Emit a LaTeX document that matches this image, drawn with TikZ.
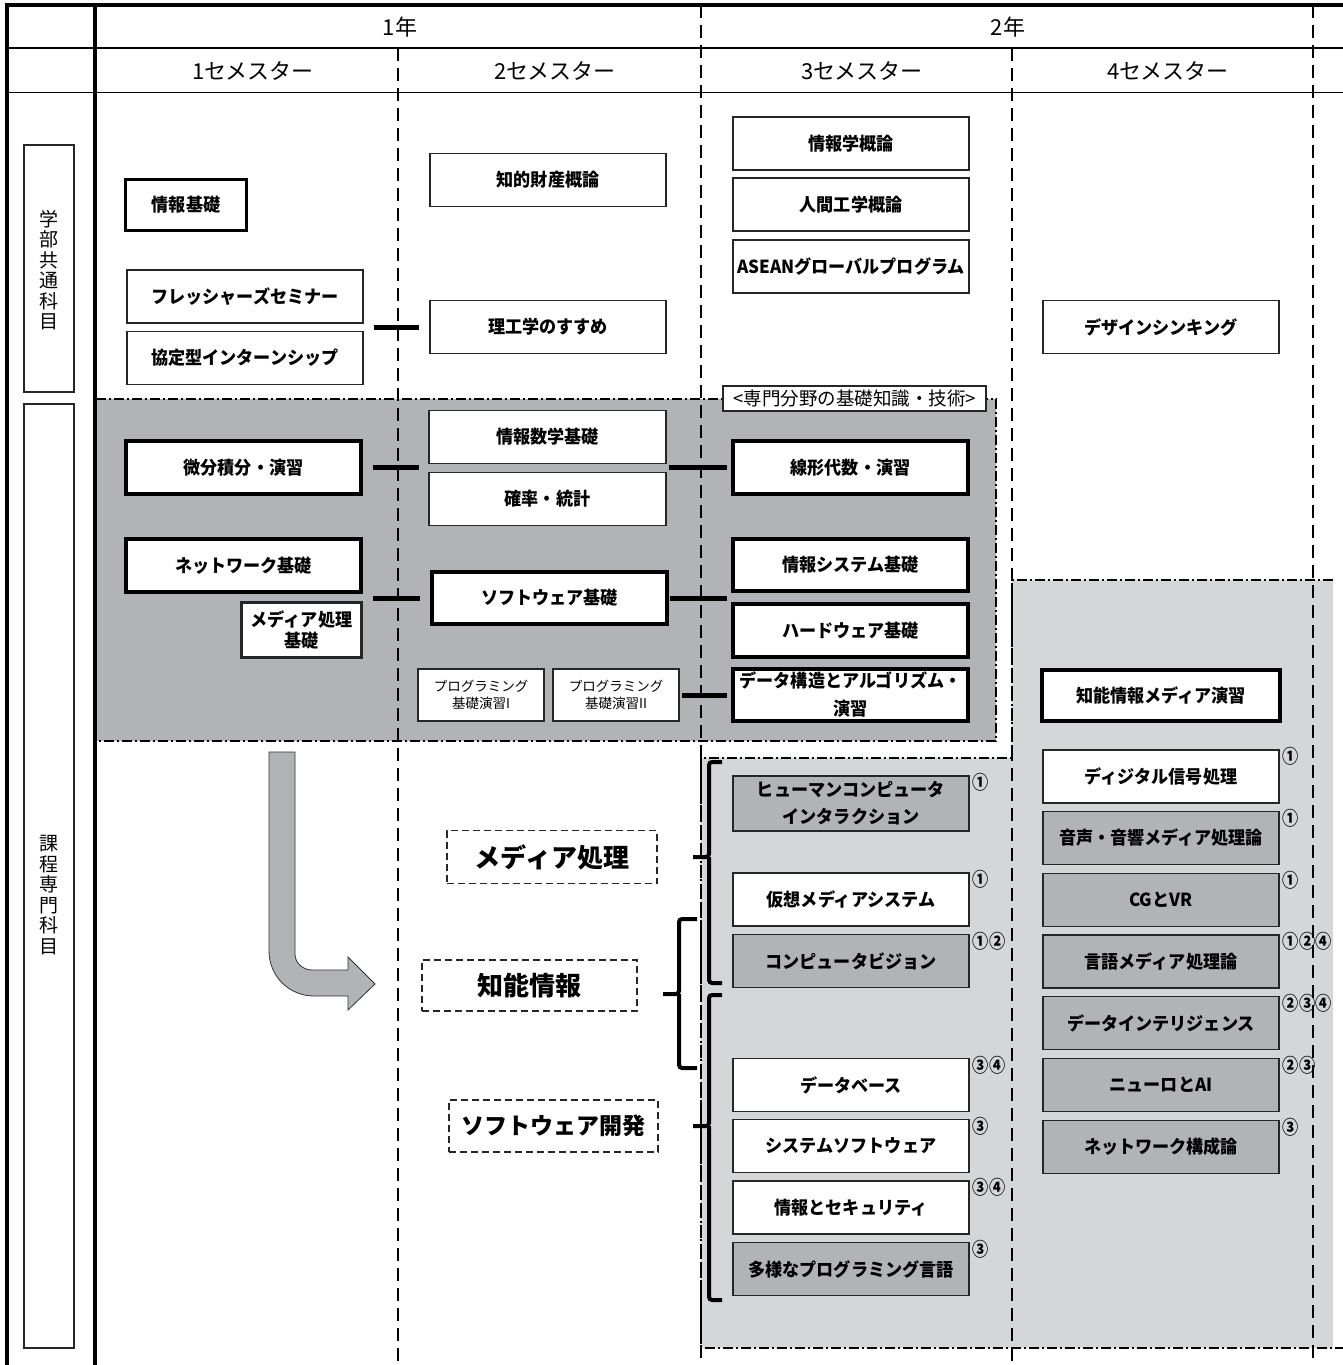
\documentclass[tikz,border=0pt]{standalone}
\usepackage{fontspec}
\newfontfamily\jp[FakeStretch=0.95]{Noto Sans CJK JP}
\newfontfamily\jpw{Noto Sans CJK JP}
\newfontfamily\jpn[FakeStretch=0.85]{Noto Sans CJK JP}
\usetikzlibrary{positioning}
\definecolor{darkfill}{HTML}{B1B3B6}
\definecolor{lightfill}{HTML}{D5D6D8}
\definecolor{boxgrey}{HTML}{B1B3B6}
\begin{document}
\begin{tikzpicture}[x=1pt, y=-1pt,
	course/.style={draw=black!85, line width=1.3pt, fill=white, minimum width=236pt, minimum height=53pt, inner sep=0pt, align=center, font=\jp\bfseries\fontsize{18}{27}\selectfont},
	core/.style={course, draw=black, line width=3.8pt, minimum width=235pt},
	greybox/.style={course, fill=boxgrey},
	practice/.style={course, line width=2.6pt, minimum width=126pt, minimum height=52pt, font=\jpw\fontsize{13.5}{17}\selectfont},
	field/.style={draw=black!85, line width=1.2pt, dash pattern=on 7pt off 4pt, inner sep=0pt, font=\jpw\bfseries\fontsize{26}{26}\selectfont},
	catbox/.style={draw=black!85, line width=1.6pt, minimum width=50pt, inner sep=0pt},
	cattext/.style={align=center, font=\jpw\fontsize{19}{20.5}\selectfont},
	numtag/.style={anchor=north west, inner sep=0pt, font=\jpn\bfseries\fontsize{19}{19}\selectfont},
	head/.style={font=\jpw\fontsize{22}{22}\selectfont},
	link/.style={line width=5pt},
	brace/.style={line width=4pt, rounded corners=3pt},
	semline/.style={line width=1.2pt, dash pattern=on 13pt off 7pt},
	zone/.style={line width=1.4pt, dash pattern=on 10pt off 3pt on 2pt off 3pt}]
	\useasboundingbox (0,0) rectangle (1343,1365);
	
	\fill[darkfill] (96,399) rectangle (996,741);
	\fill[lightfill] (701,758) -- (1012,758) -- (1012,580) -- (1333,580) -- (1333,1348) -- (701,1348) -- cycle;
	
	\draw[semline] (398,48) -- (398,1365);
	\draw[semline] (701,5) -- (701,1365);
	\draw[semline] (1012,48) -- (1012,1365);
	\draw[semline] (1313,5) -- (1313,1365);
	\draw[zone] (96,399) -- (996,399) -- (996,741) -- (96,741);
	\draw[zone] (1333,580) -- (1012,580) -- (1012,758) -- (701,758) -- (701,1348) -- (1343,1348);
	
	\draw[line width=3.5pt] (1343,5) -- (7,5) -- (7,1365);
	\draw[line width=3.5pt] (95,5) -- (95,1365);
	\draw[line width=1.5pt] (7,48) -- (1343,48);
	\draw[line width=1.5pt] (7,92.5) -- (1343,92.5);
	
	\node[head] (yr-1) at (400,27) {1年};
	\node[head] (yr-2) at (1008,27) {2年};
	\node[head] (sem-1) at (253,71) {1セメスター};
	\node[head] (sem-2) at (555,71) {2セメスター};
	\node[head] (sem-3) at (862,71) {3セメスター};
	\node[head] (sem-4) at (1168,71) {4セメスター};
	
	\node[catbox, minimum height=247pt] (cat-common) at (49,268.5) {};
	\node[cattext] (cat-common-txt) at (49,270) {学\\部\\共\\通\\科\\目};
	\node[catbox, minimum height=944pt] (cat-major) at (49,876) {};
	\node[cattext] (cat-major-txt) at (49,895) {課\\程\\専\\門\\科\\目};
	
	\node[core, minimum width=121pt, minimum height=51pt] (kiso) at (186,205) {情報基礎};
	\node[course] (fresh) at (245,296.5) {フレッシャーズセミナー};
	\node[course] (intern) at (245,358) {協定型インターンシップ};
	\node[course] (chiteki) at (548,180) {知的財産概論};
	\node[course] (riko) at (548,327) {理工学のすすめ};
	\node[course] (gairon) at (851,143.5) {情報学概論};
	\node[course] (ningen) at (851,204.5) {人間工学概論};
	\node[course] (asean) at (851,266.5) {ASEANグローバルプログラム};
	\node[course] (design) at (1161,327) {デザインシンキング};
	
	\node[course, minimum width=263pt, minimum height=25pt, font=\jpw\fontsize{18.5}{18.5}\selectfont] (kiso-label) at (854.5,398.5) {<専門分野の基礎知識・技術>};
	\node[core] (bibun) at (243.5,467.5) {微分積分・演習};
	\node[course, minimum width=237pt] (sugaku) at (547.5,437) {情報数学基礎};
	\node[course, minimum width=237pt] (kakuritsu) at (547.5,499) {確率・統計};
	\node[core] (senkei) at (850.5,467.5) {線形代数・演習};
	\node[core] (network) at (243.5,565.5) {ネットワーク基礎};
	\node[course, line width=2.8pt, minimum width=120pt, minimum height=55pt, font=\jp\bfseries\fontsize{18}{21}\selectfont] (mediakiso) at (301.5,630) {メディア処理\\基礎};
	\node[core, minimum height=52pt] (software) at (549.5,598) {ソフトウェア基礎};
	\node[core, minimum height=52pt] (jsys) at (850.5,565) {情報システム基礎};
	\node[core, minimum height=53pt] (hard) at (850.5,630.5) {ハードウェア基礎};
	\node[practice] (prog-1) at (481,695) {プログラミング\\基礎演習I};
	\node[practice] (prog-2) at (616,695) {プログラミング\\基礎演習II};
	\node[core, minimum height=52pt, font=\jp\bfseries\fontsize{18}{28}\selectfont] (data) at (850.5,695) {データ構造とアルゴリズム・\\演習};
	
	\draw[link, shorten <=10pt, shorten >=10pt] (fresh.east |- riko.west) -- (riko.west);
	\draw[link, shorten <=10pt, shorten >=9pt] (bibun.east) -- (bibun.east -| sugaku.west);
	\draw[link, shorten <=2pt, shorten >=4pt] (senkei.west -| sugaku.east) -- (senkei.west);
	\draw[link, shorten <=10pt, shorten >=10pt] (software.west -| network.east) -- (software.west);
	\draw[link, shorten <=1pt, shorten >=4pt] (software.east) -- (software.east -| jsys.west);
	\draw[link, shorten <=2pt, shorten >=4pt] (prog-2.east) -- (data.west);
	
	\draw[fill=boxgrey, draw=black!80, line width=0.8pt] (269,752) -- (295,752) -- (295,954) .. controls (295,963) and (303,970) .. (312,970) -- (348,970) -- (348,957) -- (375,984) -- (348,1010) -- (348,996) -- (314,996) .. controls (289,996) and (269,976) .. (269,951) -- cycle;
	
	\node[field, minimum width=210pt, minimum height=53pt] (f-media) at (552,857) {メディア処理};
	\node[field, minimum width=215pt, minimum height=51pt] (f-chino) at (529.5,985.5) {知能情報};
	\node[field, minimum width=209pt, minimum height=52pt, font=\jpw\bfseries\fontsize{23}{23}\selectfont] (f-soft) at (553.5,1126) {ソフトウェア開発};
	
	\draw[brace] (722,762) -| (709,857) -- (693,857) (709,857) |- (722,983);
	\draw[brace] (697,919) -| (679,994) -- (663,994) (679,994) |- (697,1068);
	\draw[brace] (722,995) -| (709,1126) -- (693,1126) (709,1126) |- (722,1300);
	
	\node[greybox, minimum height=55pt] (hci) at (851,803.5) {ヒューマンコンピュータ\\インタラクション};
	\node[course] (kaso) at (851,899.5) {仮想メディアシステム};
	\node[greybox] (cv) at (851,961) {コンピュータビジョン};
	\node[course] (db) at (851,1085) {データベース};
	\node[course] (syssoft) at (851,1146) {システムソフトウェア};
	\node[course] (security) at (851,1207.5) {情報とセキュリティ};
	\node[greybox] (lang) at (851,1269) {多様なプログラミング言語};
	
	\node[core, minimum width=238pt, minimum height=51pt] (enshu) at (1161,695.5) {知能情報メディア演習};
	\node[course] (dsp) at (1161,776.5) {ディジタル信号処理};
	\node[greybox] (onsei) at (1161,838) {音声・音響メディア処理論};
	\node[greybox] (cgvr) at (1161,900) {CGとVR};
	\node[greybox] (gengo) at (1161,961.5) {言語メディア処理論};
	\node[greybox] (dataint) at (1161,1023) {データインテリジェンス};
	\node[greybox] (neuro) at (1161,1085) {ニューロとAI};
	\node[greybox] (netkosei) at (1161,1147) {ネットワーク構成論};
	
	\node[numtag] (n-hci) at ([xshift=3pt,yshift=2pt]hci.north east) {①};
	\node[numtag] (n-kaso) at ([xshift=3pt,yshift=2pt]kaso.north east) {①};
	\node[numtag] (n-cv) at ([xshift=3pt,yshift=2pt]cv.north east) {①②};
	\node[numtag] (n-db) at ([xshift=3pt,yshift=2pt]db.north east) {③④};
	\node[numtag] (n-syssoft) at ([xshift=3pt,yshift=2pt]syssoft.north east) {③};
	\node[numtag] (n-security) at ([xshift=3pt,yshift=2pt]security.north east) {③④};
	\node[numtag] (n-lang) at ([xshift=3pt,yshift=2pt]lang.north east) {③};
	\node[numtag] (n-dsp) at ([xshift=3pt,yshift=2pt]dsp.north east) {①};
	\node[numtag] (n-onsei) at ([xshift=3pt,yshift=2pt]onsei.north east) {①};
	\node[numtag] (n-cgvr) at ([xshift=3pt,yshift=2pt]cgvr.north east) {①};
	\node[numtag] (n-gengo) at ([xshift=3pt,yshift=2pt]gengo.north east) {①②④};
	\node[numtag] (n-dataint) at ([xshift=3pt,yshift=2pt]dataint.north east) {②③④};
	\node[numtag] (n-neuro) at ([xshift=3pt,yshift=2pt]neuro.north east) {②③};
	\node[numtag] (n-netkosei) at ([xshift=3pt,yshift=2pt]netkosei.north east) {③};
\end{tikzpicture}
\end{document}
